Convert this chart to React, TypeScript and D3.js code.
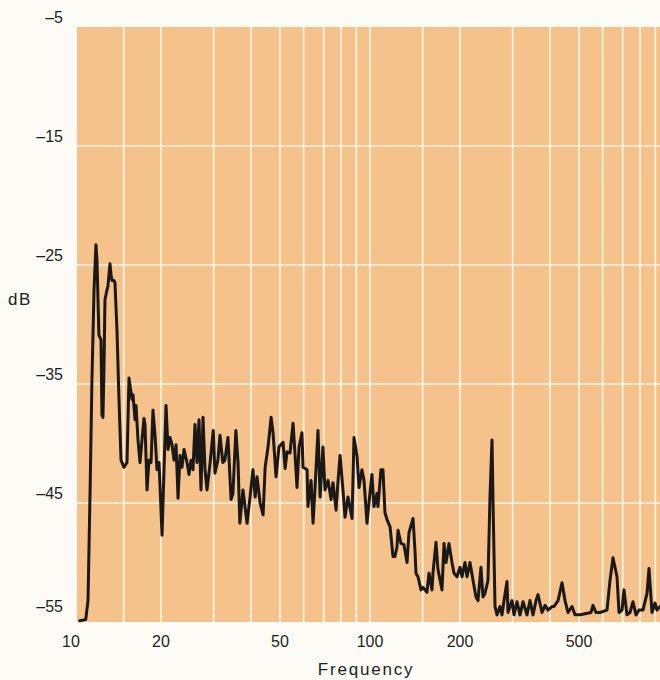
import React, { useEffect, useRef } from 'react';
import * as d3 from 'd3';

// Spectrum trace: [frequency (Hz), level (dB)]
const spectrum: [number, number][] = [
  [10.7, -54.9], [11.2, -54.8], [11.4, -53.2], [11.6, -43.1], [11.75, -34.7],
  [11.94, -27.1], [12.12, -23.3], [12.22, -24.7], [12.31, -27.9], [12.4, -30.9],
  [12.6, -31.3], [12.69, -37.6], [12.79, -37.8], [12.89, -33.8], [12.99, -27.9],
  [13.19, -27.1], [13.29, -26.8], [13.5, -24.9], [13.61, -25.8], [13.71, -26.3],
  [13.93, -26.3], [14.03, -26.5], [14.25, -30.5], [14.47, -36.3], [14.7, -41.4],
  [15.04, -42.0], [15.39, -41.6], [15.63, -34.5], [15.87, -35.7], [16.0, -36.3],
  [16.12, -35.9], [16.37, -38.0], [16.5, -36.8], [16.75, -39.7], [17.01, -41.6],
  [17.28, -39.7], [17.54, -37.9], [17.68, -38.4], [17.96, -43.9], [18.23, -41.4],
  [18.52, -41.6], [18.8, -37.2], [19.1, -39.3], [19.39, -42.2], [19.7, -41.6],
  [20.16, -47.7], [20.47, -42.2], [20.79, -36.8], [21.11, -40.5], [21.44, -39.5],
  [21.77, -40.1], [22.11, -41.4], [22.46, -40.1], [22.8, -44.6], [23.16, -41.0],
  [23.51, -42.0], [23.88, -40.5], [24.43, -41.6], [24.81, -42.6], [25.19, -41.4],
  [25.59, -42.2], [25.98, -38.4], [26.39, -41.6], [26.8, -38.0], [27.21, -43.9],
  [27.64, -37.8], [28.07, -42.2], [28.5, -43.9], [29.2, -41.6], [29.9, -38.9],
  [30.3, -42.5], [31.0, -41.4], [31.5, -39.3], [32.2, -41.6], [32.7, -41.4],
  [33.5, -39.5], [34.3, -44.7], [34.8, -44.2], [35.6, -38.9], [36.2, -41.6],
  [36.7, -46.7], [37.6, -43.9], [38.8, -46.7], [39.7, -44.5], [40.6, -42.2],
  [41.3, -44.5], [41.9, -42.8], [42.9, -45.0], [43.9, -46.0], [44.6, -42.0],
  [45.6, -40.3], [46.7, -37.8], [47.4, -39.1], [48.5, -42.8], [49.6, -40.3],
  [51.2, -39.9], [52.0, -42.1], [52.8, -40.7], [54.0, -40.8], [55.3, -38.3],
  [56.1, -40.8], [57.0, -43.7], [57.9, -40.3], [59.2, -39.1], [59.7, -42.0],
  [61.6, -42.2], [62.0, -45.3], [63.5, -43.1], [64.5, -46.7], [65.5, -43.7],
  [67.0, -38.9], [68.1, -44.5], [69.6, -40.3], [70.7, -43.9], [72.4, -43.1],
  [74.1, -44.7], [75.2, -43.3], [77.0, -45.6], [78.2, -43.1], [79.4, -41.0],
  [81.2, -43.9], [82.5, -46.2], [84.4, -44.5], [87.1, -46.3], [88.4, -39.5],
  [90.5, -41.1], [91.9, -43.7], [94.0, -42.2], [95.5, -43.1], [97.7, -46.7],
  [99.2, -45.0], [101.5, -42.6], [103.1, -45.3], [105.5, -44.2], [106.3, -45.3],
  [108.8, -42.2], [110.5, -42.2], [112.2, -45.8], [114.0, -46.4], [116.7, -47.0],
  [119.4, -49.5], [121.2, -49.5], [123.1, -48.7], [124.1, -47.3], [127.0, -48.4],
  [129.9, -48.5], [133.0, -50.0], [135.0, -47.5], [139.3, -46.3], [141.4, -49.0],
  [142.5, -50.9], [144.7, -51.2], [148.1, -52.3], [150.4, -52.1], [155.1, -52.5],
  [157.5, -50.9], [161.2, -52.3], [162.4, -50.9], [166.2, -48.3], [168.8, -50.6],
  [174.1, -52.3], [176.8, -48.4], [179.6, -50.0], [183.7, -48.4], [188.0, -50.0],
  [191.0, -50.9], [195.4, -51.2], [200.0, -50.4], [203.1, -51.2], [207.8, -50.0],
  [211.1, -51.2], [216.0, -50.0], [221.1, -51.5], [226.2, -52.9], [229.7, -53.2],
  [235.0, -50.4], [238.7, -52.9], [242.4, -52.6], [248.1, -51.5], [251.9, -44.5],
  [255.9, -39.7], [257.8, -44.7], [261.9, -53.7], [266.0, -54.4], [272.2, -53.7],
  [276.4, -54.4], [280.7, -53.2], [287.2, -51.6], [289.4, -54.2], [298.5, -53.2],
  [303.1, -54.4], [310.2, -53.3], [317.5, -54.4], [324.9, -53.3], [335.0, -54.4],
  [342.8, -53.2], [350.9, -54.4], [359.1, -53.2], [364.7, -52.7], [376.1, -54.2],
  [384.9, -53.6], [393.8, -54.0], [406.2, -53.7], [412.5, -53.7], [425.5, -53.2],
  [438.7, -51.7], [449.0, -53.2], [459.4, -54.2], [473.8, -53.7], [484.9, -54.4],
  [503.9, -54.4], [523.7, -54.3], [548.4, -54.2], [556.9, -53.6], [570.0, -54.2],
  [587.8, -54.2], [620.3, -54.0], [634.9, -51.5], [649.7, -49.6], [670.0, -51.2],
  [680.5, -54.2], [696.4, -54.0], [707.2, -52.3], [723.7, -54.4], [740.6, -54.2],
  [757.9, -53.3], [775.5, -54.4], [793.7, -54.0], [818.5, -54.0], [844.1, -52.6],
  [857.2, -50.5], [877.2, -54.2], [897.8, -53.4], [911.7, -54.0], [933.0, -53.7]
];

// Vertical grid lines printed on the chart paper
const xGridValues = [15, 20, 30, 40, 50, 60, 70, 80, 90, 100, 150, 200, 300, 400, 500, 600, 700, 800, 900];
const xTickValues = [10, 20, 50, 100, 200, 500];
const yTickValues = [-5, -15, -25, -35, -45, -55];
const yGridValues = [-15, -25, -35, -45];

const App = () => {
  const svgRef = useRef<SVGSVGElement>(null);

  useEffect(() => {
    const svg = d3.select(svgRef.current);
    svg.selectAll('*').remove();

    const width = 660;
    const height = 680;
    const plot = { left: 77, top: 27, right: 660, bottom: 622 };
    const font = "'Liberation Sans', Arial, Helvetica, sans-serif";

    const x = d3.scaleLog().domain([10, 1000]).range([71, 669]);
    const y = d3.scaleLinear().domain([-55, -5]).range([plot.bottom, plot.top]);

    // paper background
    svg.append('rect').attr('width', width).attr('height', height).attr('fill', '#fcfbf5');

    // orange plot area
    svg.append('rect')
      .attr('x', plot.left)
      .attr('y', plot.top)
      .attr('width', plot.right - plot.left)
      .attr('height', plot.bottom - plot.top)
      .attr('fill', '#f5c28b');

    // grid
    const grid = svg.append('g').attr('stroke', '#fdf4e2').attr('stroke-width', 1.7);
    grid.selectAll('.vgrid')
      .data(xGridValues)
      .enter()
      .append('line')
      .attr('x1', (d) => x(d))
      .attr('x2', (d) => x(d))
      .attr('y1', plot.top)
      .attr('y2', plot.bottom);
    grid.selectAll('.hgrid')
      .data(yGridValues)
      .enter()
      .append('line')
      .attr('x1', plot.left)
      .attr('x2', plot.right)
      .attr('y1', (d) => y(d))
      .attr('y2', (d) => y(d));

    svg.append('clipPath')
      .attr('id', 'plot-clip')
      .append('rect')
      .attr('x', plot.left)
      .attr('y', plot.top - 4)
      .attr('width', plot.right - plot.left)
      .attr('height', plot.bottom - plot.top + 8);

    const line = d3.line<[number, number]>()
      .x((d) => x(d[0]))
      .y((d) => y(d[1]));

    svg.append('path')
      .datum(spectrum)
      .attr('clip-path', 'url(#plot-clip)')
      .attr('d', line)
      .attr('fill', 'none')
      .attr('stroke', '#1b1917')
      .attr('stroke-width', 3)
      .attr('stroke-linejoin', 'round')
      .attr('stroke-linecap', 'round');

    // y tick labels sit a little above their grid line (the bottom one a bit more)
    svg.selectAll('.ylabel')
      .data(yTickValues)
      .enter()
      .append('text')
      .attr('x', 63)
      .attr('y', (d) => y(d) - (d === -55 ? 16 : 10))
      .attr('dy', '0.35em')
      .attr('text-anchor', 'end')
      .style('font-family', font)
      .style('font-size', '16px')
      .style('fill', '#1e1e1e')
      .text((d) => `\u2013${Math.abs(d)}`);

    svg.selectAll('.xlabel')
      .data(xTickValues)
      .enter()
      .append('text')
      .attr('x', (d) => x(d))
      .attr('y', 647)
      .attr('text-anchor', 'middle')
      .style('font-family', font)
      .style('font-size', '16px')
      .style('fill', '#1e1e1e')
      .text((d) => d);

    svg.append('text')
      .attr('x', 8)
      .attr('y', 305)
      .style('font-family', font)
      .style('font-size', '17px')
      .style('letter-spacing', '1.5px')
      .style('fill', '#1e1e1e')
      .text('dB');

    svg.append('text')
      .attr('x', 366)
      .attr('y', 675)
      .attr('text-anchor', 'middle')
      .style('font-family', font)
      .style('font-size', '17px')
      .style('letter-spacing', '1.8px')
      .style('fill', '#1e1e1e')
      .text('Frequency');
  }, []);

  return (
    <svg
      ref={svgRef}
      width={660}
      height={680}
      style={{ position: 'absolute', left: 0, top: 0, display: 'block' }}
    ></svg>
  );
};

export default App;
